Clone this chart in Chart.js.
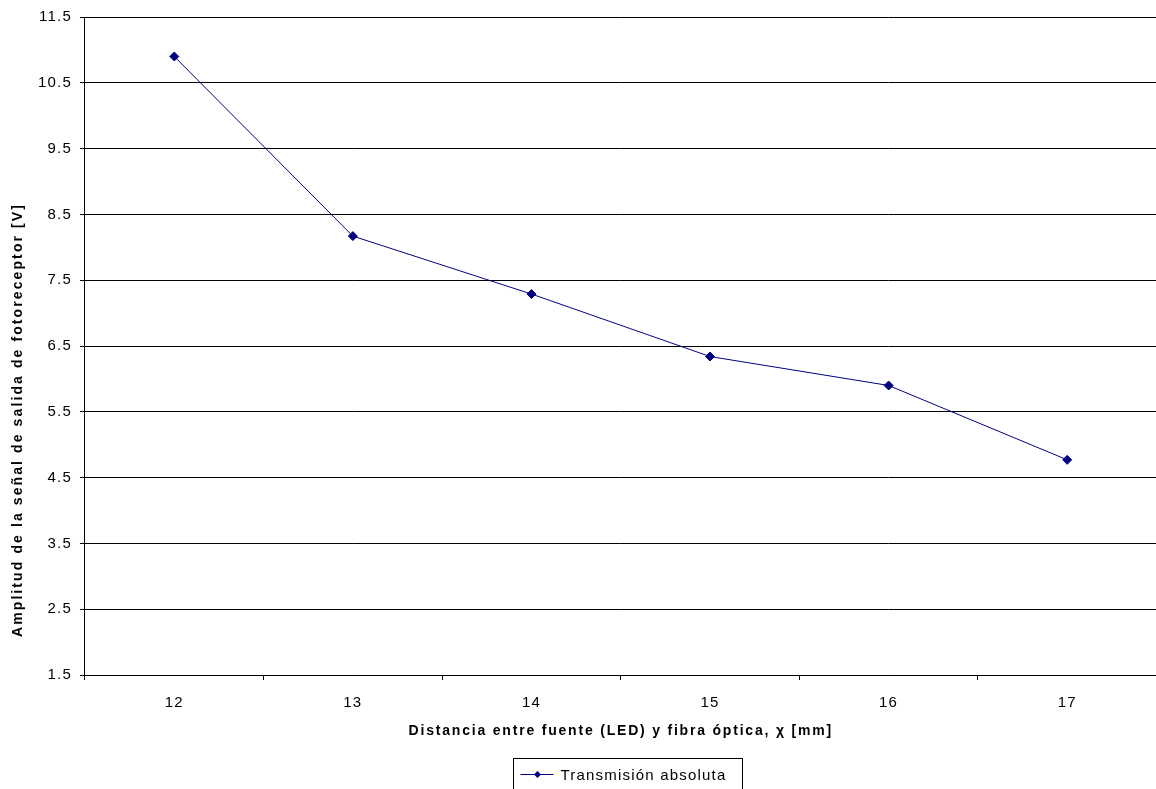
<!DOCTYPE html>
<html>
<head>
<meta charset="utf-8">
<script src="https://cdn.jsdelivr.net/npm/chart.js@4.4.1/dist/chart.umd.min.js"></script>
<style>
  html, body { margin: 0; padding: 0; background: #fff; overflow: hidden; }
  #wrap { position: relative; width: 1162px; height: 789px; }
</style>
</head>
<body>
<div id="wrap"><canvas id="chart"></canvas></div>
<script>
// datos
const distancias = ["12", "13", "14", "15", "16", "17"];
const amplitud = [10.9, 8.17, 7.29, 6.34, 5.9, 4.77];
const serieNombre = "Transmisión absoluta";
const tituloX = "Distancia entre fuente (LED) y fibra óptica, χ [mm]";
const tituloY = "Amplitud de la señal de salida de fotoreceptor [V]";
const yMin = 1.5;
const yMax = 11.5;
const yPaso = 1;

const azul = "#000080";
const fuente = "'Liberation Sans', Arial, sans-serif";

// el texto de Excel sale mas ancho: algo de espacio entre letras
const espaciado = {
  id: "espaciado",
  beforeLayout(chart) {
    chart.ctx.letterSpacing = "1.2px";
  },
  beforeDraw(chart) {
    chart.ctx.letterSpacing = "1.2px";
  },
};

// titulos de ejes y leyenda dibujados a mano
const rotulos = {
  id: "rotulos",
  afterDraw(chart) {
    const ctx = chart.ctx;
    const area = chart.chartArea;
    ctx.save();
    ctx.fillStyle = "#000";
    ctx.textAlign = "center";
    ctx.textBaseline = "middle";

    // titulo eje X
    ctx.letterSpacing = "1.8px";
    ctx.font = "bold 14px " + fuente;
    ctx.fillText(tituloX, (area.left + area.right) / 2, 731);

    // titulo eje Y
    ctx.letterSpacing = "2.1px";
    ctx.save();
    ctx.translate(18, 420);
    ctx.rotate(-Math.PI / 2);
    ctx.fillText(tituloY, 0, 0);
    ctx.restore();

    // leyenda
    ctx.letterSpacing = "1.2px";
    ctx.font = "15px " + fuente;
    const x0 = 513.5, y0 = 758.5, w = 229, h = 32;
    ctx.strokeStyle = "#000";
    ctx.lineWidth = 1;
    ctx.strokeRect(x0, y0, w, h);
    const my = 774.5;
    ctx.strokeStyle = azul;
    ctx.beginPath();
    ctx.moveTo(x0 + 7, my);
    ctx.lineTo(x0 + 40, my);
    ctx.stroke();
    const mx = x0 + 24;
    ctx.fillStyle = azul;
    ctx.beginPath();
    ctx.moveTo(mx, my - 3.5);
    ctx.lineTo(mx + 3.5, my);
    ctx.lineTo(mx, my + 3.5);
    ctx.lineTo(mx - 3.5, my);
    ctx.closePath();
    ctx.fill();
    ctx.fillStyle = "#000";
    ctx.textAlign = "left";
    ctx.fillText(serieNombre, x0 + 47, my + 1);
    ctx.restore();
  },
};

const ctx = document.getElementById("chart");
new Chart(ctx, {
  type: "line",
  data: {
    labels: distancias,
    datasets: [
      {
        label: serieNombre,
        data: amplitud,
        borderColor: azul,
        backgroundColor: azul,
        borderWidth: 1,
        pointStyle: "rectRot",
        pointRadius: 4.5,
        pointHoverRadius: 4.5,
        tension: 0,
      },
    ],
  },
  options: {
    responsive: true,
    maintainAspectRatio: false,
    animation: false,
    layout: { padding: { top: 13, right: 0, bottom: 63, left: 30 } },
    plugins: {
      legend: { display: false },
      tooltip: { enabled: false },
    },
    scales: {
      x: {
        type: "category",
        offset: true,
        grid: {
          offset: true,
          drawOnChartArea: false,
          drawTicks: true,
          tickLength: 5,
          color: "#000",
        },
        border: { display: true, color: "#000", width: 1 },
        ticks: { color: "#000", font: { family: fuente, size: 15 }, padding: 14 },
      },
      y: {
        min: yMin,
        max: yMax,
        ticks: {
          stepSize: yPaso,
          color: "#000",
          font: { family: fuente, size: 15 },
          padding: 8,
          callback: (v) => v.toFixed(1),
        },
        grid: { color: "#000", lineWidth: 1, tickLength: 5, drawTicks: true },
        border: { display: true, color: "#000", width: 1 },
      },
    },
  },
  plugins: [espaciado, rotulos],
});
</script>
</body>
</html>
